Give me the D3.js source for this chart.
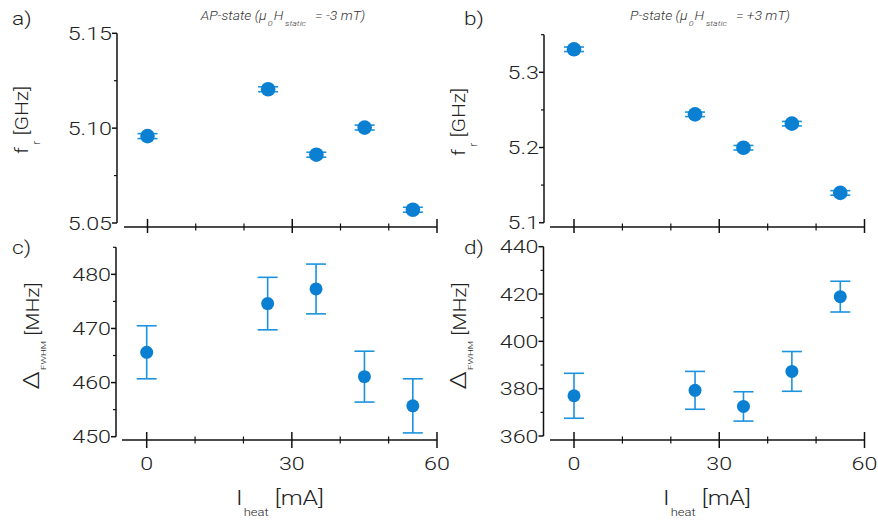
<!DOCTYPE html>
<html>
<head>
<meta charset="utf-8">
<script src="https://cdn.jsdelivr.net/npm/d3@7"></script>
<style>
  html, body { margin: 0; padding: 0; background: #fff; }
  svg { display: block; }
  text { font-family: "Roboto", "Liberation Sans", sans-serif; font-weight: 300; fill: #222; }
</style>
</head>
<body>
<svg id="chart" width="878" height="520"></svg>
<script>
// ---------------- data ----------------
const heatCurrent = [0, 25, 35, 45, 55];            // I_heat [mA]
const apFreq      = [5.0958, 5.1205, 5.0860, 5.1003, 5.0570]; // f_r [GHz], AP-state
const apFreqErr   = [0.0013, 0.0013, 0.0013, 0.0013, 0.0013];
const pFreq       = [5.3306, 5.2441, 5.1997, 5.2317, 5.1396]; // f_r [GHz], P-state
const pFreqErr    = [0.003, 0.003, 0.003, 0.003, 0.003];
const apWidth     = [465.6, 474.6, 477.3, 461.1, 455.7]; // Δ_FWHM [MHz], AP-state
const apWidthErr  = [4.9, 4.85, 4.6, 4.7, 5.0];
const pWidth      = [377.0, 379.3, 372.5, 387.3, 418.9]; // Δ_FWHM [MHz], P-state
const pWidthErr   = [9.5, 8.0, 6.2, 8.4, 6.5];

const xMajor = [0, 30, 60];
const xMinor = [10, 20, 40, 50];
const aMajor = [5.05, 5.10, 5.15], aMinor = [5.075, 5.125];
const bMajor = [5.1, 5.2, 5.3],    bMinor = [5.15, 5.25, 5.35];
const cMajor = [450, 460, 470, 480], cMinor = [455, 465, 475, 485];
const dMajor = [360, 380, 400, 420, 440], dMinor = [370, 390, 410, 430];

// ---------------- drawing ----------------
const svg = d3.select("#chart");
const MARK = "#0b80d2", ERR = "#1b93de", AX = "#111";
const SX = 1.26; // horizontal stretch of the original lettering

function stretchedText(g, x, y, rot, anchor, size, parts, sx) {
  const t = g.append("text")
    .attr("transform", `translate(${x},${y}) rotate(${rot}) scale(${sx || SX},1)`)
    .attr("text-anchor", anchor)
    .attr("font-size", size);
  parts.forEach(p => {
    const ts = t.append("tspan").text(p.t);
    if (p.size) ts.attr("font-size", p.size);
    if (p.dy) ts.attr("dy", p.dy);
    if (p.dx) ts.attr("dx", p.dx);
  });
  return t;
}

function panel(cfg) {
  const g = svg.append("g");
  const x = d3.scaleLinear().domain([0, 60]).range(cfg.xr);
  const y = d3.scaleLinear().domain(cfg.yd).range(cfg.yr);

  // y axis
  g.append("line").attr("x1", cfg.yAxisX).attr("x2", cfg.yAxisX)
    .attr("y1", y(cfg.yd[0])).attr("y2", y(cfg.yd[1]))
    .attr("stroke", AX).attr("stroke-width", 1.5);
  cfg.yMajor.forEach(v => {
    g.append("line").attr("x1", cfg.yAxisX - 5).attr("x2", cfg.yAxisX)
      .attr("y1", y(v)).attr("y2", y(v)).attr("stroke", AX).attr("stroke-width", 1.5);
    stretchedText(g, cfg.yAxisX - 5, y(v) + 6.5, 0, "end", 18.5, [{t: cfg.fmt(v)}]);
  });
  cfg.yMinor.forEach(v => {
    g.append("line").attr("x1", cfg.yAxisX - 3).attr("x2", cfg.yAxisX)
      .attr("y1", y(v)).attr("y2", y(v)).attr("stroke", AX).attr("stroke-width", 1.2);
  });

  // x axis
  g.append("line").attr("x1", cfg.xLine[0]).attr("x2", cfg.xLine[1])
    .attr("y1", cfg.xAxisY).attr("y2", cfg.xAxisY)
    .attr("stroke", AX).attr("stroke-width", 1.5);
  xMajor.forEach(v => {
    g.append("line").attr("x1", x(v)).attr("x2", x(v))
      .attr("y1", cfg.xAxisY - 8).attr("y2", cfg.xAxisY + (cfg.labels ? 8 : 6))
      .attr("stroke", AX).attr("stroke-width", 1.5);
    if (cfg.labels) stretchedText(g, x(v), cfg.xAxisY + 29.5, 0, "middle", 18.5, [{t: String(v)}]);
  });
  xMinor.forEach(v => {
    g.append("line").attr("x1", x(v)).attr("x2", x(v))
      .attr("y1", cfg.xAxisY - 3.5).attr("y2", cfg.xAxisY + 3.5)
      .attr("stroke", AX).attr("stroke-width", 1.2);
  });

  // error bars
  const pts = heatCurrent.map((c, i) => ({c, v: cfg.vals[i], e: cfg.errs[i]}));
  const eb = g.append("g").attr("stroke", ERR).attr("stroke-width", 1.6);
  pts.forEach(p => {
    eb.append("line").attr("x1", x(p.c)).attr("x2", x(p.c))
      .attr("y1", y(p.v - p.e)).attr("y2", y(p.v + p.e));
    [p.v - p.e, p.v + p.e].forEach(ev => {
      eb.append("line").attr("x1", x(p.c) - 10).attr("x2", x(p.c) + 10)
        .attr("y1", y(ev)).attr("y2", y(ev));
    });
  });
  g.selectAll("circle.pt").data(pts).join("circle")
    .attr("class", "pt")
    .attr("cx", p => x(p.c)).attr("cy", p => y(p.v))
    .attr("r", cfg.r).attr("fill", MARK);

  // y axis title
  stretchedText(g, cfg.yTitle[0], cfg.yTitle[1], -90, "middle", 17.5, cfg.yTitleParts, 1.2);

  // x axis title
  if (cfg.labels) {
    stretchedText(g, cfg.xTitleX, 505, 0, "middle", 21, [
      {t: "I"}, {t: "heat", size: 11, dy: 11, dx: 1}, {t: " [mA]", size: 21, dy: -11}
    ], 1.18);
  }
  // panel letter
  stretchedText(g, cfg.letter[0], cfg.letter[1], 0, "start", 18, [{t: cfg.letter[2]}]);
}

const fLabel = [{t: "f"}, {t: "r", size: 10, dy: 12, dx: 2}, {t: " [GHz]", size: 17.5, dy: -12}];
const dLabel = [{t: "Δ", size: 22}, {t: "FWHM", size: 8, dy: 7, dx: 1}, {t: " [MHz]", size: 17.5, dy: -7}];

panel({xr: [147.5, 437], xLine: [124, 437], xAxisY: 227, yAxisX: 117,
  yd: [5.05, 5.15], yr: [223, 33.3], yMajor: aMajor, yMinor: aMinor, fmt: d3.format(".2f"),
  vals: apFreq, errs: apFreqErr, r: 7.3, labels: false,
  yTitle: [28, 120], yTitleParts: fLabel, letter: [12, 25, "a)"]});
panel({xr: [574, 864.5], xLine: [550, 865], xAxisY: 227, yAxisX: 544,
  yd: [5.1, 5.35], yr: [222.7, 34.7], yMajor: bMajor, yMinor: bMinor, fmt: d3.format(".1f"),
  vals: pFreq, errs: pFreqErr, r: 7.3, labels: false,
  yTitle: [465, 122], yTitleParts: fLabel, letter: [464, 25, "b)"]});
panel({xr: [146.7, 437], xLine: [122, 437], xAxisY: 440, yAxisX: 116,
  yd: [450, 485], yr: [436.7, 247.3], yMajor: cMajor, yMinor: cMinor, fmt: d3.format("d"),
  vals: apWidth, errs: apWidthErr, r: 6.5, labels: true, xTitleX: 280,
  yTitle: [39, 336], yTitleParts: dLabel, letter: [12, 254, "c)"]});
panel({xr: [574, 864.5], xLine: [550, 865], xAxisY: 440, yAxisX: 543.5,
  yd: [360, 440], yr: [436, 246.7], yMajor: dMajor, yMinor: dMinor, fmt: d3.format("d"),
  vals: pWidth, errs: pWidthErr, r: 6.5, labels: true, xTitleX: 707,
  yTitle: [466, 336], yTitleParts: dLabel, letter: [464, 254, "d)"]});

// titles
function title(cx, main, value) {
  const t = svg.append("text")
    .attr("transform", `translate(${cx},20) scale(1.12,1)`)
    .attr("text-anchor", "middle").attr("font-size", 12.5)
    .attr("font-style", "italic").style("fill", "#333");
  t.append("tspan").text(main + " (μ");
  t.append("tspan").text("0").attr("font-size", 8).attr("dy", 5.5).attr("dx", 1);
  t.append("tspan").text("H").attr("dy", -5.5).attr("dx", 1);
  t.append("tspan").text("static").attr("font-size", 8).attr("dy", 5.5).attr("dx", 1.5);
  t.append("tspan").text(" = " + value + ")").attr("dy", -5.5).attr("dx", 5);
}
title(283, "AP-state", "-3 mT");
title(710, "P-state", "+3 mT");
</script>
</body>
</html>
